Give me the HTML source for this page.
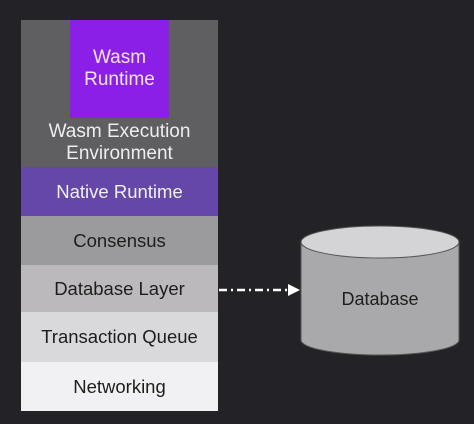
<!DOCTYPE html>
<html><head><style>
body{margin:0;width:474px;height:424px;background:#232226;overflow:hidden;font-family:"Liberation Sans",sans-serif;position:relative}
.b{position:absolute;left:21px;width:197px;display:flex;align-items:center;justify-content:center;font-size:18.5px;color:#1e1e1e;text-align:center}
</style></head><body>
<div class="b" style="top:20px;height:147px;background:#5f5e61"></div>
<div class="b" style="left:70px;width:99px;top:20px;height:98px;background:#8b1fe8;color:#f1e4f8;font-size:19px;line-height:22px">Wasm<br>Runtime</div>
<div class="b" style="top:120px;height:46px;color:#eee;font-size:19px;line-height:22px">Wasm Execution<br>Environment</div>
<div class="b" style="top:167px;height:49px;background:#6547a9;color:#f0f0f0">Native Runtime</div>
<div class="b" style="top:216px;height:49px;background:#9b9a9c">Consensus</div>
<div class="b" style="top:265px;height:47px;background:#bcb9bc">Database Layer</div>
<div class="b" style="top:312px;height:50px;background:#d9d8db">Transaction Queue</div>
<div class="b" style="top:362px;height:49px;background:#f1f0f2">Networking</div>
<svg width="474" height="424" style="position:absolute;left:0;top:0">
<line x1="219" y1="290" x2="290" y2="290" stroke="#fff" stroke-width="2.5" stroke-dasharray="8,4,2,4"/>
<polygon points="288,284 300,290 288,296" fill="#fff"/>
<path d="M301,242 L301,340 A79,15 0 0 0 459,340 L459,242 Z" fill="#a9a8aa" stroke="#555" stroke-width="1"/>
<ellipse cx="380" cy="242" rx="79" ry="16" fill="#d4d3d5" stroke="#555" stroke-width="1"/>
<text x="380" y="305" text-anchor="middle" font-family="Liberation Sans" font-size="18" fill="#1e1e1e">Database</text>
</svg>
</body></html>
